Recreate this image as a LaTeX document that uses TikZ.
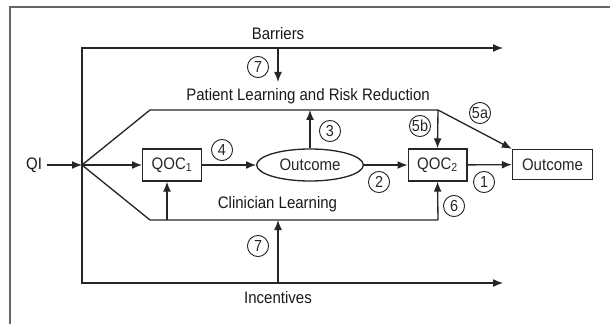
\documentclass[tikz,border=0pt]{standalone}
\usepackage{fontspec}
\setmainfont{Liberation Sans}[FakeStretch=0.9]
\usetikzlibrary{arrows.meta, shapes.geometric, calc}

\begin{document}
\begin{tikzpicture}[
    x=0.75pt, y=-0.75pt, % One unit is one pixel of the reference, y runs down
    >={Latex[length=7.5pt, width=6pt]}, % Filled triangle tips
    every node/.style={text=black!90, font=\fontsize{12.5}{14}\selectfont},
    link/.style={-, line width=1pt, black!85}, % Plain path
    arr/.style={->, line width=1pt, black!85}, % Path with a tip
    box/.style={draw, line width=1pt, black!85, minimum width=44pt, minimum height=24pt, inner sep=0pt},
    oval/.style={ellipse, draw, line width=1pt, black!85, minimum width=80pt, minimum height=24pt, inner sep=0pt},
    num/.style={circle, draw, line width=0.7pt, black!85, inner sep=0pt, minimum size=15.8pt, font=\fontsize{12}{12}\selectfont},
    frame/.style={-, line width=1.1pt, black!60}
  ]
  \useasboundingbox (0,0) rectangle (610,324);

  % --- Frame (top and left edges only) ---
  \draw[frame] (10,324) -- (10,7) -- (610,7);

  % --- Main row ---
  \coordinate (junc) at (82,165); % Where QI splits up
  \node (qi) at (34,165) {QI};
  \node[box] (qoc1) at (172,165) {QOC\textsubscript{1}};
  \node[oval] (out1) at (310,165) {Outcome};
  \node[box] (qoc2) at (437.5,165) {QOC\textsubscript{2}};
  \node[box, minimum width=60pt, minimum height=22.5pt] (out2) at (552.5,164.5) {Outcome};

  \draw[arr] (qi) -- (junc);
  \draw[arr] (junc) -- (qoc1);
  \draw[arr] (qoc1) -- (out1);
  \draw[arr] (out1) -- (qoc2);
  \draw[arr] (qoc2) -- (out2);

  % --- Barriers and Incentives ---
  \node (barr) at (278,34) {Barriers};
  \node (inc) at (278,298) {Incentives};
  \coordinate (barr_end) at (503,48);
  \coordinate (inc_end) at (503,283);
  \draw[arr] (junc) |- (barr_end);
  \draw[arr] (junc) |- (inc_end);

  % --- Patient learning branch ---
  \node (pl) at (308,96) {Patient Learning and Risk Reduction};
  \coordinate (pl_a) at (150,110);
  \coordinate (pl_b) at (438,110);
  \draw[link] (junc) -- (pl_a) -- (pl_b);
  \draw[arr] (out1.north) -- (out1.north |- pl_b); % 3
  \draw[arr] (pl_b) -- (qoc2.north); % 5b
  \draw[arr] (pl_b) -- (out2.north west); % 5a
  \coordinate (barr_top) at (278,48);
  \draw[arr] (barr_top) -- ($(barr_top)+(0,34)$); % 7, into the branch

  % --- Clinician learning branch ---
  \node (cl) at (277.5,204) {Clinician Learning};
  \coordinate (cl_a) at (150,220);
  \coordinate (cl_b) at (438,220);
  \coordinate (cl_q) at (167,220);
  \draw[link] (junc) -- (cl_a) -- (cl_b);
  \draw[arr] (cl_q) -- (cl_q |- qoc1.south);
  \draw[arr] (cl_b) -- (qoc2.south); % 6
  \coordinate (inc_top) at (278,283);
  \draw[arr] (inc_top) -- (inc_top |- cl_b); % 7, into the branch

  % --- Circled numbers ---
  \foreach \x/\y/\lab/\name in {258/67/7/sevtop, 330/131/3/three, 420/126/5b/fiveb,
      480/113/5a/fivea, 222/150/4/four, 379/182/2/two, 484/182/1/one,
      454/206/6/six, 258/246/7/sevbot} {
    \node[num] (c_\name) at (\x,\y) {\lab};
  }

\end{tikzpicture}
\end{document}
